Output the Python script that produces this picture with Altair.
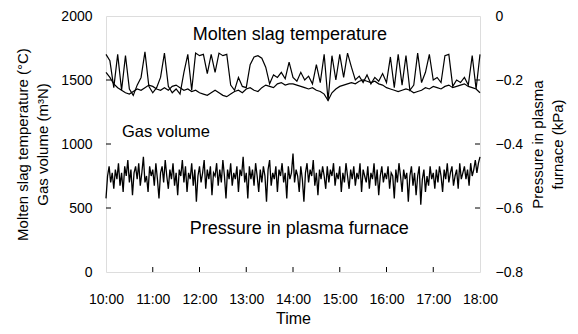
import altair as alt
import pandas as pd

# time in minutes after 10:00
t_gas = list(range(0, 481, 5))
gas = [
    1700, 1650, 1440, 1700, 1420, 1690, 1430, 1380, 1460, 1520, 1720, 1450,
    1400, 1440, 1520, 1710, 1450, 1400, 1430, 1390, 1560, 1700, 1420, 1710,
    1690, 1700, 1550, 1700, 1560, 1710, 1690, 1700, 1460, 1420, 1520, 1450,
    1440, 1620, 1680, 1690, 1670, 1600, 1470, 1540, 1520, 1560, 1510, 1640,
    1520, 1490, 1560, 1500, 1530, 1470, 1620, 1480, 1700, 1340, 1690, 1500,
    1700, 1520, 1710, 1600, 1500, 1530, 1480, 1540, 1470, 1520, 1490, 1550,
    1480, 1680, 1440, 1700, 1460, 1690, 1420, 1460, 1710, 1480, 1560, 1700,
    1500, 1520, 1480, 1690, 1700, 1450, 1500, 1480, 1520, 1460, 1690, 1430,
    1700,
]
t_temp = list(range(0, 481, 5))
temp = [
    1560, 1520, 1470, 1440, 1420, 1400, 1390, 1410, 1430, 1420, 1440, 1460,
    1450, 1430, 1420, 1440, 1420, 1450, 1460, 1440, 1420, 1430, 1410, 1420,
    1400, 1390, 1380, 1400, 1420, 1400, 1380, 1370, 1390, 1410, 1420, 1400,
    1430, 1440, 1420, 1410, 1440, 1460, 1450, 1440, 1470, 1480, 1460, 1470,
    1470, 1460, 1450, 1440, 1430, 1440, 1420, 1410, 1390, 1340, 1400, 1430,
    1450, 1460, 1470, 1480, 1470, 1490, 1500, 1490, 1480, 1490, 1470, 1460,
    1440, 1430, 1420, 1410, 1420, 1430, 1420, 1400, 1410, 1420, 1440, 1430,
    1450, 1440, 1430, 1450, 1460, 1440, 1450, 1460, 1470, 1450, 1440, 1430,
    1400,
]
t_press = list(range(0, 481, 2))
press = [
    -0.57, -0.50, -0.47, -0.52, -0.49, -0.54, -0.48, -0.51, -0.46, -0.53,
    -0.49, -0.55, -0.47, -0.50, -0.45, -0.52, -0.48, -0.56, -0.49, -0.47,
    -0.51, -0.46, -0.53, -0.49, -0.44, -0.52, -0.50, -0.55, -0.47, -0.50,
    -0.48, -0.53, -0.46, -0.51, -0.57, -0.49, -0.47, -0.52, -0.45, -0.50,
    -0.54, -0.48, -0.51, -0.46, -0.53, -0.49, -0.56, -0.48, -0.50, -0.45,
    -0.52, -0.47, -0.55, -0.49, -0.51, -0.46, -0.53, -0.48, -0.58, -0.50,
    -0.47, -0.52, -0.49, -0.45, -0.54, -0.48, -0.51, -0.47, -0.56, -0.49,
    -0.50, -0.46, -0.53, -0.48, -0.52, -0.45, -0.50, -0.57, -0.48, -0.51,
    -0.46, -0.53, -0.49, -0.51, -0.47, -0.55, -0.48, -0.50, -0.44, -0.52,
    -0.49, -0.57, -0.47, -0.51, -0.48, -0.53, -0.46, -0.50, -0.55, -0.48,
    -0.52, -0.47, -0.50, -0.58, -0.48, -0.45, -0.53, -0.49, -0.51, -0.47,
    -0.55, -0.48, -0.50, -0.46, -0.52, -0.49, -0.57, -0.47, -0.51, -0.49,
    -0.43, -0.52, -0.48, -0.50, -0.55, -0.47, -0.51, -0.58, -0.49, -0.46,
    -0.52, -0.48, -0.50, -0.45, -0.53, -0.49, -0.56, -0.48, -0.51, -0.47,
    -0.50, -0.54, -0.47, -0.52, -0.48, -0.50, -0.46, -0.53, -0.49, -0.51,
    -0.47, -0.55, -0.49, -0.52, -0.46, -0.50, -0.54, -0.48, -0.51, -0.47,
    -0.53, -0.49, -0.51, -0.46, -0.55, -0.48, -0.50, -0.52, -0.47, -0.54,
    -0.49, -0.51, -0.46, -0.53, -0.48, -0.56, -0.50, -0.47, -0.52, -0.49,
    -0.51, -0.47, -0.54, -0.49, -0.50, -0.57, -0.48, -0.52, -0.46, -0.50,
    -0.55, -0.48, -0.51, -0.49, -0.58, -0.50, -0.47, -0.53, -0.49, -0.56,
    -0.50, -0.47, -0.59, -0.51, -0.48, -0.55, -0.50, -0.53, -0.47, -0.51,
    -0.49, -0.54, -0.48, -0.52, -0.47, -0.50, -0.55, -0.48, -0.51, -0.46,
    -0.52, -0.49, -0.47, -0.53, -0.50, -0.48, -0.54, -0.46, -0.51, -0.49,
    -0.47, -0.51, -0.48, -0.53, -0.46, -0.50, -0.48, -0.45, -0.49, -0.46,
    -0.44,
]
x_ticks = [0, 60, 120, 180, 240, 300, 360, 420, 480]
left_ticks = [0, 500, 1000, 1500, 2000]
right_ticks = [-0.8, -0.6, -0.4, -0.2, 0.0]

label_text = ["Molten slag temperature", "Gas volume", "Pressure in plasma furnace"]
label_t = [236, 77, 248]
label_v = [1853, 1093, 333]
label_size = [18, 16.5, 18]

FONT = "Liberation Sans, Arial, sans-serif"

left_df = pd.concat([
    pd.DataFrame({"t": t_gas, "value": gas, "series": "gas"}),
    pd.DataFrame({"t": t_temp, "value": temp, "series": "temp"}),
])
press_df = pd.DataFrame({"t": t_press, "p": press})
text_df = pd.DataFrame({"t": label_t, "value": label_v, "label": label_text, "fs": label_size})
lt_df = pd.DataFrame({"value": left_ticks[1:-1]})
rt_df = pd.DataFrame({"p": right_ticks[1:-1]})
xt_df = pd.DataFrame({"t": x_ticks[1:-1]})

W, H = 374, 256

x_axis = alt.Axis(
    values=x_ticks, labelExpr="(10 + datum.value/60) + ':00'", title="Time",
    ticks=False, domain=False, grid=False, labelPadding=20, titlePadding=4,
    labelOverlap=False, labelFlush=False,
    labelFont=FONT, labelFontSize=14, titleFont=FONT, titleFontSize=16,
    titleFontWeight="normal", labelColor="black", titleColor="black",
)
x_scale = alt.Scale(domain=[0, 480], nice=False, zero=False)

def X(field="t"):
    return alt.X(f"{field}:Q", scale=x_scale, axis=x_axis)

y_axis = alt.Axis(
    values=left_ticks, format="d",
    title=["Molten slag temperature (°C)", "Gas volume (m³N)"],
    ticks=False, domain=False, grid=False, labelPadding=14, titlePadding=10,
    titleLineHeight=20, labelFont=FONT, labelFontSize=14, titleFont=FONT,
    titleFontSize=15, titleFontWeight="normal", labelColor="black", titleColor="black",
)
y_scale = alt.Scale(domain=[0, 2000], nice=False)

def YL():
    return alt.Y("value:Q", scale=y_scale, axis=y_axis)

lines = alt.Chart(left_df).mark_line(color="black", strokeWidth=1.2).encode(
    x=X(), y=YL(), detail="series:N"
)
texts = alt.Chart(text_df).mark_text(
    font=FONT, color="black", align="center", baseline="middle"
).encode(x=X(), y=YL(), text="label:N",
         size=alt.Size("fs:Q", scale=None, legend=None))
lticks = alt.Chart(lt_df).mark_rule(color="black").encode(
    y=YL(), x=alt.value(0), x2=alt.value(5)
)
xticks = alt.Chart(xt_df).mark_rule(color="black").encode(
    x=X(), y=alt.value(H), y2=alt.value(H - 5)
)
left_group = alt.layer(lines, texts, lticks, xticks)

yr_axis = alt.Axis(
    orient="right", values=right_ticks,
    labelExpr="datum.value == 0 ? '0' : format(datum.value, '.1f')",
    title=["Pressure in plasma", "furnace (kPa)"], titleAngle=270,
    ticks=False, domain=False, grid=False, labelPadding=15, titlePadding=3,
    titleLineHeight=20, labelFont=FONT, labelFontSize=14, titleFont=FONT,
    titleFontSize=15, titleFontWeight="normal", labelColor="black", titleColor="black",
)
yr_scale = alt.Scale(domain=[-0.8, 0], nice=False, zero=False)

def YR():
    return alt.Y("p:Q", scale=yr_scale, axis=yr_axis)

pline = alt.Chart(press_df).mark_line(color="black", strokeWidth=1.3).encode(x=X(), y=YR())
rticks = alt.Chart(rt_df).mark_rule(color="black").encode(
    y=YR(), x=alt.value(W - 5), x2=alt.value(W)
)
right_group = alt.layer(pline, rticks)

chart = alt.layer(left_group, right_group).resolve_scale(y="independent").properties(
    width=W, height=H,
    autosize=alt.AutoSizeParams(type="none"),
    padding={"left": 98, "top": 8, "right": 88, "bottom": 56},
).configure_view(stroke="black", strokeWidth=1).configure(background="white")

chart.save("out.html", embed_options={"renderer": "svg", "actions": False})
